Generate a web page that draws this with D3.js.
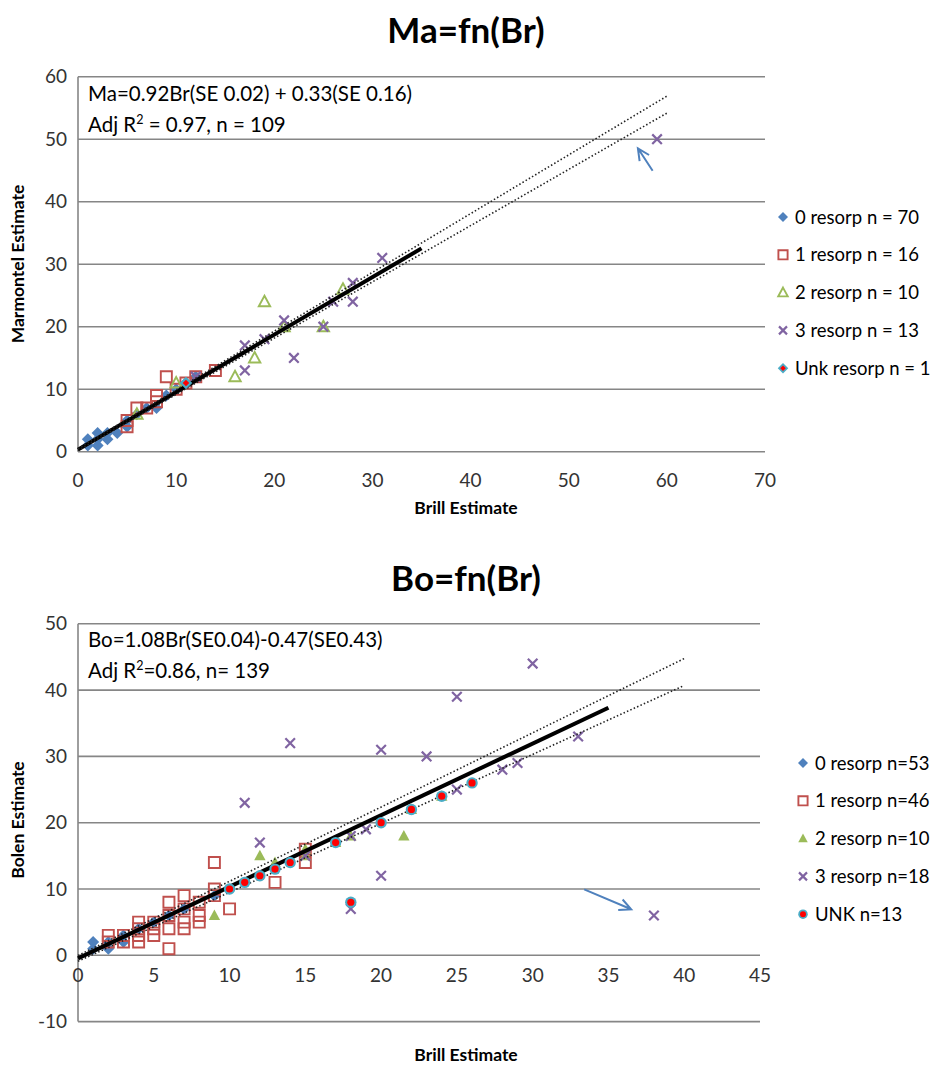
<!DOCTYPE html>
<html>
<head>
<meta charset="utf-8">
<script src="https://cdnjs.cloudflare.com/ajax/libs/d3/7.8.5/d3.min.js"></script>
<style>
body { margin: 0; background: #fff; }
text { font-family: Lato, 'Open Sans', sans-serif; }
</style>
</head>
<body>
<script>
// ---- data: Ma = fn(Br) ----
var maTitle = 'Ma=fn(Br)';
var maXTicks = [0, 10, 20, 30, 40, 50, 60, 70];
var maYTicks = [0, 10, 20, 30, 40, 50, 60];
var maLegend = ['0 resorp n = 70', '1 resorp n = 16', '2 resorp n = 10', '3 resorp n = 13', 'Unk resorp n = 1'];
var ma0 = [[1,1],[1,2],[2,1],[2,2],[2,3],[3,2],[3,3],[4,3],[5,4],[5,5],[6,6],[7,7],[8,7],[9,9],[10,10],[11,11],[12,12]];
var ma1 = [[5,4],[5,5],[6,7],[7,7],[8,8],[8,9],[9,12],[10,10],[11,11],[12,12],[14,13]];
var ma2 = [[6,6],[10,11],[16,12],[18,15],[19,24],[21,20],[25,20],[27,26]];
var ma3 = [[12,12],[17,17],[17,13],[19,18],[21,21],[22,15],[25,20],[26,24],[28,27],[28,24],[31,31],[59,50]];
var maUnk = [[11,11]];
var maFit = [[0,0.33],[35,32.53]];
var maUpper = [[0,0.49],[60,56.89]];
var maLower = [[0,0.17],[60,54.17]];
var maArrow = [[58.55,44.96],[57.05,48.54]];
var maNote = ['Ma=0.92Br(SE 0.02) + 0.33(SE 0.16)', 'Adj R', ' = 0.97, n = 109'];

// ---- data: Bo = fn(Br) ----
var boTitle = 'Bo=fn(Br)';
var boXTicks = [0, 5, 10, 15, 20, 25, 30, 35, 40, 45];
var boYTicks = [-10, 0, 10, 20, 30, 40, 50];
var boLegend = ['0 resorp n=53', '1 resorp n=46', '2 resorp n=10', '3 resorp n=18', 'UNK n=13'];
var bo0 = [[1,1],[1,2],[2,1],[2,2],[3,2],[3,3],[4,4],[5,5],[6,6],[7,7],[9,9]];
var bo1 = [[2,2],[2,3],[3,2],[3,3],[4,2],[4,3],[4,4],[4,5],[5,3],[5,4],[5,5],[6,1],[6,4],[6,6],[6,8],
           [7,4],[7,5],[7,7],[7,9],[8,5],[8,6],[8,8],[9,9],[9,10],[9,14],[10,7],[13,11],[15,14],[15,16]];
var bo2 = [[9,6],[12,15],[13,14],[15,16],[15,15],[17,17],[18,18],[21.5,18],[22,22],[24,24]];
var bo3 = [[11,23],[12,17],[14,32],[15,15],[18,7],[18,18],[19,19],[20,12],[20,31],[23,30],[25,25],
           [25,39],[28,28],[29,29],[30,44],[33,33],[38,6]];
var boUnk = [[10,10],[11,11],[12,12],[13,13],[14,14],[17,17],[18,8],[20,20],[22,22],[24,24],[26,26]];
var boFit = [[0,-0.47],[35,37.33]];
var boUpper = [[0,-0.04],[40,44.76]];
var boLower = [[0,-0.90],[40,40.70]];
var boArrow = [[33.4,9.95],[36.5,6.94]];
var boNote = ['Bo=1.08Br(SE0.04)-0.47(SE0.43)', 'Adj R', '=0.86, n= 139'];

// colours used by excel
var blue = '#4f81bd', red = '#c0504d', green = '#9bbb59', purple = '#8064a2', teal = '#4bacc6';
var gridColor = '#868686';

var svg = d3.select('body').append('svg').attr('width', 937).attr('height', 1065);

// marker shapes, s = half size
var markerPath = function(type, s) {
  if (type == 'diamond') return 'M0,' + (-s) + 'L' + s + ',0L0,' + s + 'L' + (-s) + ',0Z';
  if (type == 'square') return 'M' + (-s) + ',' + (-s) + 'H' + s + 'V' + s + 'H' + (-s) + 'Z';
  if (type == 'triangle') return 'M0,' + (-s) + 'L' + (s * 0.95) + ',' + (s * 0.75) + 'L' + (-s * 0.95) + ',' + (s * 0.75) + 'Z';
  if (type == 'cross') return 'M' + (-s) + ',' + (-s) + 'L' + s + ',' + s + 'M' + s + ',' + (-s) + 'L' + (-s) + ',' + s;
  return '';
};

var drawMarker = function(g, kind, s) {
  if (kind == 'd0') g.append('path').attr('d', markerPath('diamond', s)).attr('fill', blue);
  if (kind == 'sq') g.append('path').attr('d', markerPath('square', s * 0.92)).attr('fill', 'none').attr('stroke', red).attr('stroke-width', 1.9);
  if (kind == 'triOpen') g.append('path').attr('d', markerPath('triangle', s)).attr('fill', 'none').attr('stroke', green).attr('stroke-width', 1.9);
  if (kind == 'triFill') g.append('path').attr('d', markerPath('triangle', s)).attr('fill', green);
  if (kind == 'x') g.append('path').attr('d', markerPath('cross', s * 0.8)).attr('fill', 'none').attr('stroke', purple).attr('stroke-width', 2.2);
  if (kind == 'unkD') {
    g.append('path').attr('d', markerPath('diamond', s * 1.05)).attr('fill', teal);
    g.append('path').attr('d', markerPath('diamond', s * 0.55)).attr('fill', '#ff0000');
  }
  if (kind == 'unkC') {
    g.append('circle').attr('r', s * 0.95).attr('fill', teal);
    g.append('circle').attr('r', s * 0.6).attr('fill', '#ff0000');
  }
};

var drawChart = function(c) {
  var x = d3.scaleLinear().domain(c.xDomain).range(c.xRange);
  var y = d3.scaleLinear().domain(c.yDomain).range(c.yRange);
  var g = svg.append('g');

  // title
  g.append('text').attr('x', c.titleX).attr('y', c.titleY).attr('text-anchor', 'middle')
    .attr('font-size', 35).attr('font-weight', 'bold').text(c.title);

  // horizontal gridlines
  g.selectAll('.grid').data(c.yTicks).enter().append('line')
    .attr('x1', x(c.xDomain[0])).attr('x2', x(c.xDomain[1]))
    .attr('y1', function(d) { return y(d); }).attr('y2', function(d) { return y(d); })
    .attr('stroke', gridColor).attr('stroke-width', 1.6);
  // left axis
  g.append('line').attr('x1', x(0)).attr('x2', x(0)).attr('y1', y(c.yDomain[0])).attr('y2', y(c.yDomain[1]))
    .attr('stroke', gridColor).attr('stroke-width', 1.6);

  // tick labels
  g.selectAll('.ylab').data(c.yTicks).enter().append('text')
    .attr('x', x(0) - 11).attr('y', function(d) { return y(d) + 6.5; })
    .attr('text-anchor', 'end').attr('font-size', 19).attr('fill', '#333')
    .text(function(d) { return d; });
  g.selectAll('.xlab').data(c.xTicks).enter().append('text')
    .attr('x', function(d) { return x(d); }).attr('y', y(0) + c.xLabOffset)
    .attr('text-anchor', 'middle').attr('font-size', 19).attr('fill', '#333')
    .text(function(d) { return d; });

  // axis titles
  g.append('text').attr('x', c.xTitleX).attr('y', c.xTitleY).attr('text-anchor', 'middle')
    .attr('font-size', 17.5).attr('font-weight', 'bold').text('Brill Estimate');
  g.append('text').attr('transform', 'translate(' + 24 + ',' + c.yTitleY + ') rotate(-90)')
    .attr('text-anchor', 'middle').attr('font-size', 17.5).attr('font-weight', 'bold').text(c.yTitle);

  // note
  var note = g.append('text').attr('font-size', 20.5).attr('fill', '#000');
  note.append('tspan').attr('x', x(0) + 10).attr('y', c.noteY).text(c.note[0]);
  var l2 = g.append('text').attr('font-size', 20.5).attr('x', x(0) + 10).attr('y', c.noteY + 31);
  l2.append('tspan').text(c.note[1]);
  l2.append('tspan').attr('dy', -8).attr('font-size', 12.5).text('2');
  l2.append('tspan').attr('dy', 8).text(c.note[2]);

  var line = d3.line().x(function(d) { return x(d[0]); }).y(function(d) { return y(d[1]); });

  // series 0..3
  var plotSeries = function(data, kind, s) {
    data.forEach(function(d) {
      var m = g.append('g').attr('transform', 'translate(' + x(d[0]) + ',' + y(d[1]) + ')');
      drawMarker(m, kind, s);
    });
  };
  plotSeries(c.s0, 'd0', c.ms);
  plotSeries(c.s1, 'sq', c.ms);
  plotSeries(c.s2, c.triKind, c.ms);
  plotSeries(c.s3, 'x', c.ms);

  // fit and bounds
  g.append('path').attr('d', line(c.fit)).attr('stroke', '#000').attr('stroke-width', 4).attr('fill', 'none');
  [c.upper, c.lower].forEach(function(b) {
    g.append('path').attr('d', line(b)).attr('stroke', '#222').attr('stroke-width', 1.6)
      .attr('stroke-dasharray', '1.5,2.2').attr('fill', 'none');
  });

  plotSeries(c.unk, c.unkKind, c.ms);

  // arrow
  var a0 = [x(c.arrow[0][0]), y(c.arrow[0][1])], a1 = [x(c.arrow[1][0]), y(c.arrow[1][1])];
  var ang = Math.atan2(a1[1] - a0[1], a1[0] - a0[0]);
  var hl = 13, spread = 0.45;
  g.append('path')
    .attr('d', 'M' + a0 + 'L' + a1 +
      'M' + (a1[0] - hl * Math.cos(ang - spread)) + ',' + (a1[1] - hl * Math.sin(ang - spread)) +
      'L' + a1 + 'L' + (a1[0] - hl * Math.cos(ang + spread)) + ',' + (a1[1] - hl * Math.sin(ang + spread)))
    .attr('stroke', blue).attr('stroke-width', 2).attr('fill', 'none');

  // legend
  var kinds = ['d0', 'sq', c.triKind, 'x', c.unkKind];
  c.legend.forEach(function(t, i) {
    var ly = c.legY + i * c.legStep;
    var m = g.append('g').attr('transform', 'translate(' + c.legX + ',' + ly + ')');
    drawMarker(m, kinds[i], 5);
    g.append('text').attr('x', c.legX + 12).attr('y', ly + 6.5).attr('font-size', c.legFont).text(t);
  });
};

drawChart({
  title: maTitle, titleX: 466, titleY: 43,
  xDomain: [0, 70], xRange: [78, 765], yDomain: [0, 60], yRange: [451.7, 76.7],
  xTicks: maXTicks, yTicks: maYTicks, xLabOffset: 35,
  xTitleX: 466, xTitleY: 514, yTitle: 'Marmontel Estimate', yTitleY: 264,
  note: maNote, noteY: 101,
  s0: ma0, s1: ma1, s2: ma2, s3: ma3, unk: maUnk, triKind: 'triOpen', unkKind: 'unkD', ms: 6,
  fit: maFit, upper: maUpper, lower: maLower, arrow: maArrow,
  legend: maLegend, legX: 783, legY: 217, legStep: 37.8, legFont: 18.5
});

drawChart({
  title: boTitle, titleX: 466, titleY: 591,
  xDomain: [0, 45], xRange: [78, 760], yDomain: [-10, 50], yRange: [1021.6, 623.8],
  xTicks: boXTicks, yTicks: boYTicks, xLabOffset: 27,
  xTitleX: 466, xTitleY: 1061, yTitle: 'Bolen Estimate', yTitleY: 820,
  note: boNote, noteY: 647,
  s0: bo0, s1: bo1, s2: bo2, s3: bo3, unk: boUnk, triKind: 'triFill', unkKind: 'unkC', ms: 6,
  fit: boFit, upper: boUpper, lower: boLower, arrow: boArrow,
  legend: boLegend, legX: 803, legY: 763, legStep: 37.8, legFont: 18.5
});
</script>
</body>
</html>
